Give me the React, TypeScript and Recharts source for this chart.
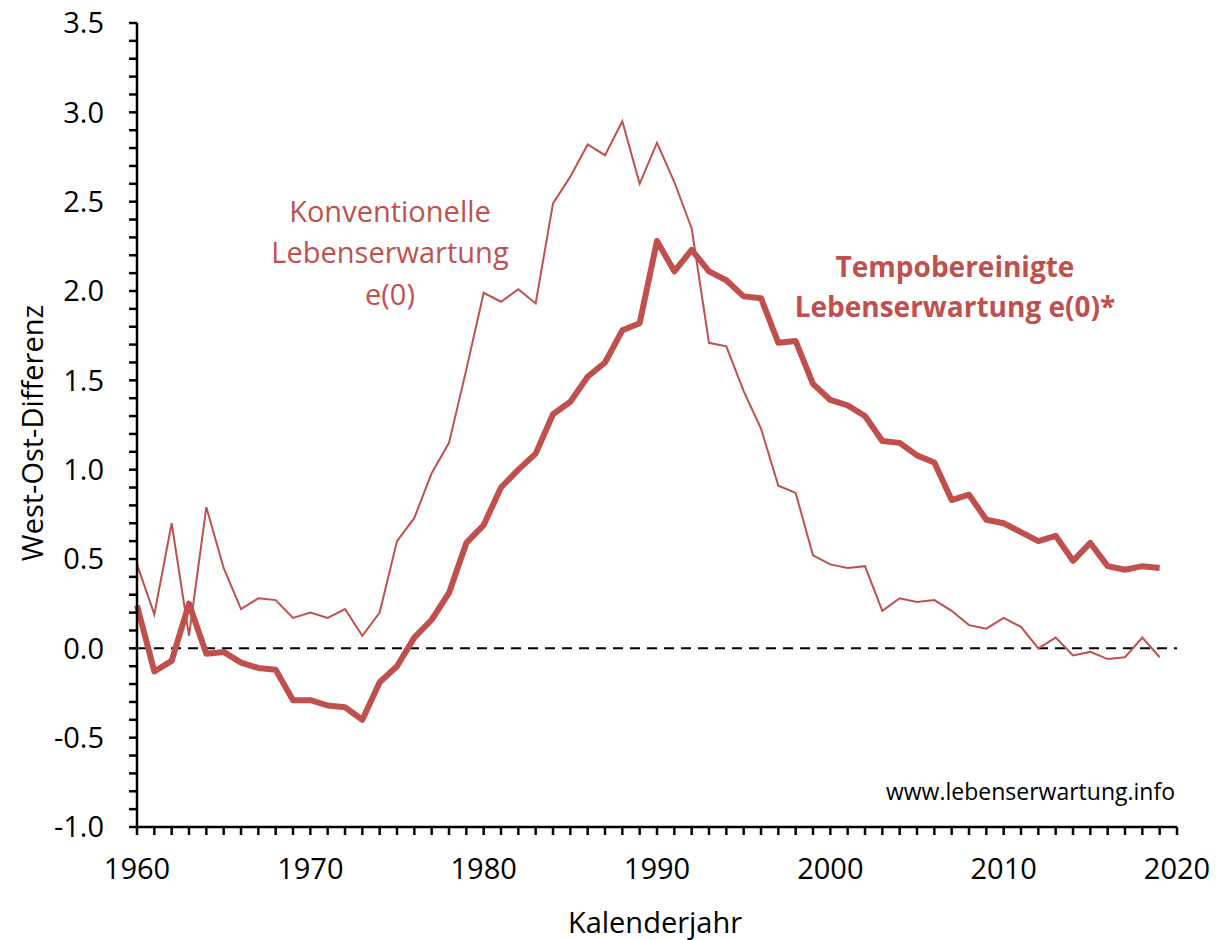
import React from 'react';
import { LineChart, Line, XAxis, YAxis, ReferenceLine } from 'recharts';

const years = [
  1960, 1961, 1962, 1963, 1964, 1965, 1966, 1967, 1968, 1969,
  1970, 1971, 1972, 1973, 1974, 1975, 1976, 1977, 1978, 1979,
  1980, 1981, 1982, 1983, 1984, 1985, 1986, 1987, 1988, 1989,
  1990, 1991, 1992, 1993, 1994, 1995, 1996, 1997, 1998, 1999,
  2000, 2001, 2002, 2003, 2004, 2005, 2006, 2007, 2008, 2009,
  2010, 2011, 2012, 2013, 2014, 2015, 2016, 2017, 2018, 2019,
];

// conventional life expectancy e(0), west minus east
const conventional = [
  0.47, 0.19, 0.7, 0.07, 0.79, 0.45, 0.22, 0.28, 0.27, 0.17,
  0.2, 0.17, 0.22, 0.07, 0.2, 0.6, 0.73, 0.98, 1.15, 1.56,
  1.99, 1.94, 2.01, 1.93, 2.49, 2.64, 2.82, 2.76, 2.95, 2.6,
  2.83, 2.61, 2.35, 1.71, 1.69, 1.44, 1.23, 0.91, 0.87, 0.52,
  0.47, 0.45, 0.46, 0.21, 0.28, 0.26, 0.27, 0.21, 0.13, 0.11,
  0.17, 0.12, 0.0, 0.06, -0.04, -0.02, -0.06, -0.05, 0.06, -0.05,
];

// tempo-adjusted life expectancy e(0)*
const tempoAdjusted = [
  0.24, -0.13, -0.07, 0.25, -0.03, -0.02, -0.08, -0.11, -0.12, -0.29,
  -0.29, -0.32, -0.33, -0.4, -0.19, -0.1, 0.06, 0.16, 0.31, 0.59,
  0.69, 0.9, 1.0, 1.09, 1.31, 1.38, 1.52, 1.6, 1.78, 1.82,
  2.28, 2.11, 2.23, 2.11, 2.06, 1.97, 1.96, 1.71, 1.72, 1.48,
  1.39, 1.36, 1.3, 1.16, 1.15, 1.08, 1.04, 0.83, 0.86, 0.72,
  0.7, 0.65, 0.6, 0.63, 0.49, 0.59, 0.46, 0.44, 0.46, 0.45,
];

const xTicks = Array.from({ length: 61 }, (_, i) => 1960 + i);
const yTicks = Array.from({ length: 46 }, (_, i) => Math.round(-10 + i) / 10);

const data = years.map((year, i) => ({
  year,
  conventional: conventional[i],
  tempoAdjusted: tempoAdjusted[i],
}));

const RED = '#C0504D';
const FONT = "'Open Sans', sans-serif";

const formatYear = (v: number) => (v % 10 === 0 ? String(v) : '');
const formatValue = (v: number) =>
  Math.abs(v * 2 - Math.round(v * 2)) < 1e-6 ? v.toFixed(1) : '';

const App: React.FC = () => {
  return (
    <div style={{ position: 'absolute', left: 0, top: 0, width: 1220, height: 940, background: '#fff' }}>
      <LineChart
        width={1220}
        height={940}
        data={data}
        margin={{ top: 23, right: 43, bottom: 53, left: 57 }}
      >
        <XAxis
          dataKey="year"
          type="number"
          domain={[1960, 2020]}
          ticks={xTicks}
          interval={0}
          tickFormatter={formatYear}
          height={60}
          tickSize={8}
          tickMargin={23}
          axisLine={{ stroke: '#000', strokeWidth: 2.5 }}
          tickLine={{ stroke: '#000', strokeWidth: 2.5 }}
          tick={{ fill: '#000', fontSize: 29, fontFamily: FONT }}
        />
        <YAxis
          type="number"
          domain={[-1, 3.5]}
          ticks={yTicks}
          interval={0}
          tickFormatter={formatValue}
          width={80}
          tickSize={8}
          tickMargin={25}
          axisLine={{ stroke: '#000', strokeWidth: 2.5 }}
          tickLine={{ stroke: '#000', strokeWidth: 2.5 }}
          tick={{ fill: '#000', fontSize: 29, fontFamily: FONT }}
        />
        <ReferenceLine y={0} stroke="#000" strokeWidth={2} strokeDasharray="10 7" />
        <Line
          type="linear"
          dataKey="tempoAdjusted"
          stroke={RED}
          strokeWidth={6}
          strokeLinejoin="round"
          dot={false}
          isAnimationActive={false}
        />
        <Line
          type="linear"
          dataKey="conventional"
          stroke={RED}
          strokeWidth={2}
          dot={false}
          isAnimationActive={false}
        />
      </LineChart>
      <svg
        width={1220}
        height={940}
        style={{ position: 'absolute', left: 0, top: 0, pointerEvents: 'none' }}
        fontFamily={FONT}
      >
        <text x={390} y={222} textAnchor="middle" fontSize={29} fill={RED}>Konventionelle</text>
        <text x={390} y={263} textAnchor="middle" fontSize={29} fill={RED}>Lebenserwartung</text>
        <text x={390} y={305} textAnchor="middle" fontSize={29} fill={RED}>e(0)</text>
        <text x={955} y={277} textAnchor="middle" fontSize={28} fontWeight="bold" fill={RED}>Tempobereinigte</text>
        <text x={955} y={317} textAnchor="middle" fontSize={28} fontWeight="bold" fill={RED}>Lebenserwartung e(0)*</text>
        <text x={1175} y={800} textAnchor="end" fontSize={23} fill="#000">www.lebenserwartung.info</text>
        <text x={655} y={933} textAnchor="middle" fontSize={29} fill="#000">Kalenderjahr</text>
        <text x={43} y={433} textAnchor="middle" fontSize={29} fill="#000" transform="rotate(-90 43 433)">West-Ost-Differenz</text>
      </svg>
    </div>
  );
};

export default App;
